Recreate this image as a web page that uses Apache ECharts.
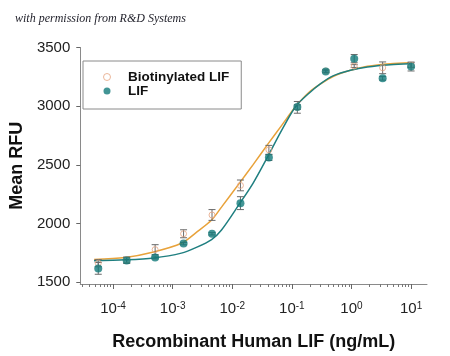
<!DOCTYPE html>
<html>
<head>
<meta charset="utf-8">
<script src="https://cdn.jsdelivr.net/npm/echarts@6/dist/echarts.min.js"></script>
<style>html,body{margin:0;padding:0;background:#fff}#c{width:450px;height:356px}</style>
</head>
<body>
<div id="c"></div>
<script>
// Concentrations (ng/mL), 3-fold dilutions
const conc = [10, 3.333, 1.111, 0.3704, 0.1235, 0.04115, 0.01372, 0.004572, 0.001524, 0.000508, 0.0001694, 0.00005645];
const lifMean = [3338, 3237, 3405, 3296, 2992, 2562, 2174, 1913, 1829, 1711, 1685, 1618];
const lifErr  = [38, 15, 35, 10, 20, 25, 55, 10, 10, 12, 25, 50];
const bioMean = [3350, 3327, 3342, 3300, 2990, 2628, 2325, 2073, 1913, 1778, 1690, 1662];
const bioErr  = [20, 50, 12, 10, 50, 38, 46, 46, 34, 42, 25, 30];
// Fitted curves
const fitConc = [4.8e-5, 1.6e-4, 4.8e-4, 1.4e-3, 2.5e-3, 4.5e-3, 6.6e-3, 0.0131, 0.0224, 0.0398, 0.068, 0.1166, 0.192, 0.304, 0.501, 0.962, 1.85, 4.47, 9.62];
const fitBio = [1694, 1711, 1758, 1832, 1925, 2030, 2140, 2342, 2502, 2679, 2839, 2999, 3117, 3190, 3255, 3306, 3340, 3362, 3370];
const fitLIF = [1684, 1691, 1707, 1748, 1797, 1864, 1945, 2165, 2345, 2575, 2798, 2999, 3108, 3192, 3260, 3306, 3334, 3354, 3362];
const xTickExp = [-4, -3, -2, -1, 0, 1];
const yTicks = [1500, 2000, 2500, 3000, 3500];

const lg = Math.log10;
const minorTicks = [];
for (let e = -5; e <= 1; e++) for (let k = 2; k <= 9; k++) minorTicks.push(lg(k) + e);

const TEAL = '#137A7B', TEAL_LINE = '#1F7F80', ORANGE = '#E8A23A', ORANGE_PT = '#E6A582', ERR = '#6a6a6a';
const FONT = 'Liberation Sans';

function errBars(mean, err) {
  return conc.map((c, i) => [lg(c), mean[i], err[i]]);
}
function renderErr(params, api) {
  const x = api.value(0), y = api.value(1), e = api.value(2);
  const t = api.coord([x, y + e]), b = api.coord([x, y - e]);
  const hw = 3.5, st = { stroke: ERR, lineWidth: 1 };
  return { type: 'group', children: [
    { type: 'line', shape: { x1: t[0], y1: t[1], x2: b[0], y2: b[1] }, style: st },
    { type: 'line', shape: { x1: t[0] - hw, y1: t[1], x2: t[0] + hw, y2: t[1] }, style: st },
    { type: 'line', shape: { x1: b[0] - hw, y1: b[1], x2: b[0] + hw, y2: b[1] }, style: st }
  ]};
}

const chart = echarts.init(document.getElementById('c'), null, { renderer: 'canvas' });
chart.setOption({
  animation: false,
  backgroundColor: '#fff',
  textStyle: { fontFamily: FONT },
  title: {
    text: 'with permission from R&D Systems',
    left: 10, top: 8,
    textStyle: { fontFamily: 'Liberation Serif', fontStyle: 'italic', fontWeight: 'normal', fontSize: 12, color: '#1e1e28' }
  },
  legend: {
    left: 83, top: 61, orient: 'vertical',
    padding: [9, 12, 11, 20], itemGap: 0,
    itemWidth: 32, itemHeight: 7,
    borderColor: '#8a8a8a', borderWidth: 1, backgroundColor: '#fff',
    textStyle: { fontFamily: FONT, fontWeight: 'bold', fontSize: 13.5, color: '#111', lineHeight: 14 },
    data: [
      { name: 'Biotinylated LIF', icon: 'circle', itemStyle: { color: '#fff', borderColor: ORANGE_PT, borderWidth: 1 } },
      { name: 'LIF', icon: 'circle', itemStyle: { color: TEAL, borderWidth: 0 } }
    ]
  },
  grid: { left: 78, right: 23, top: 47.5, bottom: 69.5, containLabel: false },
  xAxis: [{
    type: 'value', min: -4.55, max: 1.267,
    name: 'Recombinant Human LIF (ng/mL)', nameLocation: 'middle', nameGap: 49,
    nameTextStyle: { fontFamily: FONT, fontWeight: 'bold', fontSize: 18, color: '#111' },
    axisLine: { show: true, onZero: false, lineStyle: { color: '#8a8a8a', width: 1 } },
    axisTick: { show: true, inside: false, length: 5, customValues: xTickExp, lineStyle: { color: '#666' } },
    axisLabel: {
      customValues: xTickExp, margin: 17, color: '#222',
      formatter: v => '{b|10}{s|' + Math.round(v) + '}',
      rich: {
        b: { fontFamily: FONT, fontSize: 15, color: '#222', verticalAlign: 'bottom' },
        s: { fontFamily: FONT, fontSize: 10, color: '#222', verticalAlign: 'top' }
      }
    },
    splitLine: { show: false }
  }, {
    type: 'value', min: -4.55, max: 1.267, position: 'bottom',
    axisLine: { show: false, onZero: false },
    axisTick: { show: true, length: 3, customValues: minorTicks, lineStyle: { color: '#777' } },
    axisLabel: { show: false },
    splitLine: { show: false }
  }],
  yAxis: {
    type: 'value', min: 1485, max: 3500,
    name: 'Mean RFU', nameLocation: 'middle', nameGap: 54,
    nameTextStyle: { fontFamily: FONT, fontWeight: 'bold', fontSize: 18, color: '#111' },
    axisLine: { show: true, onZero: false, lineStyle: { color: '#8a8a8a', width: 1 } },
    axisTick: { show: true, length: 4, customValues: yTicks, lineStyle: { color: '#666' } },
    axisLabel: { customValues: yTicks, margin: 10, fontFamily: FONT, fontSize: 15, color: '#222', formatter: v => String(v) },
    splitLine: { show: false }
  },
  series: [
    { name: 'Biotinylated fit', type: 'line', smooth: 0.3, showSymbol: false, z: 2,
      lineStyle: { color: ORANGE, width: 1.5 }, itemStyle: { color: ORANGE },
      data: fitConc.map((c, i) => [lg(c), fitBio[i]]) },
    { name: 'LIF fit', type: 'line', smooth: 0.3, showSymbol: false, z: 2,
      lineStyle: { color: TEAL_LINE, width: 1.5 }, itemStyle: { color: TEAL_LINE },
      data: fitConc.map((c, i) => [lg(c), fitLIF[i]]) },
    { name: 'bio err', type: 'custom', z: 3, renderItem: renderErr, encode: { x: 0, y: 1 },
      data: errBars(bioMean, bioErr) },
    { name: 'lif err', type: 'custom', z: 3, renderItem: renderErr, encode: { x: 0, y: 1 },
      data: errBars(lifMean, lifErr) },
    { name: 'Biotinylated LIF', type: 'scatter', symbol: 'circle', symbolSize: 6, z: 4,
      itemStyle: { color: 'rgba(255,255,255,0)', borderColor: ORANGE_PT, borderWidth: 1 },
      data: conc.map((c, i) => [lg(c), bioMean[i]]) },
    { name: 'LIF', type: 'scatter', symbol: 'circle', symbolSize: 8, z: 5,
      itemStyle: { color: TEAL },
      data: conc.map((c, i) => [lg(c), lifMean[i]]) }
  ]
});
</script>
</body>
</html>
